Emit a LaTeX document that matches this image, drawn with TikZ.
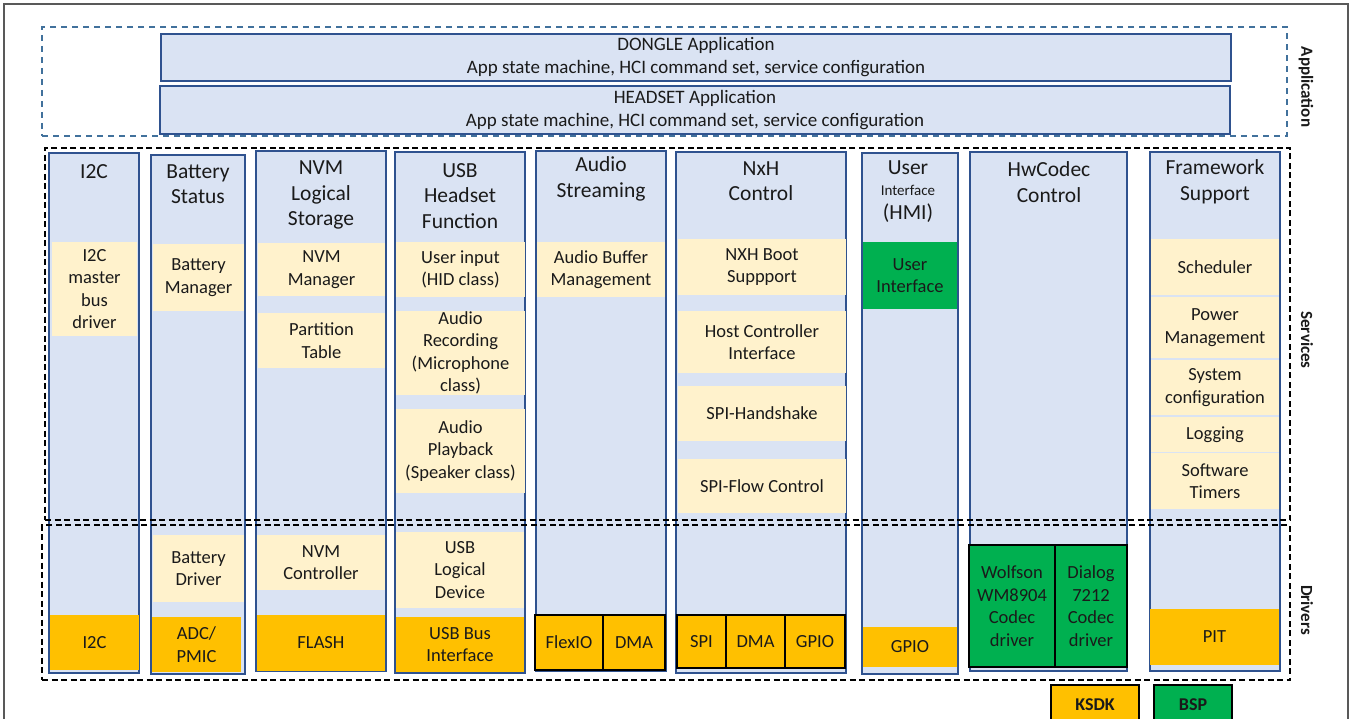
\documentclass[tikz,border=0pt]{standalone}
\usepackage{fontspec}
\setmainfont{Carlito}
\definecolor{colblue}{HTML}{DAE3F3}
\definecolor{bord}{HTML}{2F528F}
\definecolor{appdash}{HTML}{41719C}
\definecolor{ylw}{HTML}{FFF2CC}
\definecolor{org}{HTML}{FFC000}
\definecolor{grn}{HTML}{00B050}
\definecolor{frame}{HTML}{595959}
\definecolor{txt}{HTML}{1A1A1A}
\newcommand\bx[7]{\node[#2, minimum width={#5-#3}, minimum height={#6-#4}] (#1) at ({(#3+#5)/2},{(#4+#6)/2}) {#7};}
\newcommand\subfont{\fontsize{18.5}{22.5}\selectfont}
\newcommand\appfont{\fontsize{19}{23}\selectfont}
\newcommand\headfont{\fontsize{21.5}{25.5}\selectfont}
\tikzset{
  every node/.style={inner sep=0pt, outer sep=0pt, text=txt, align=center},
  colbox/.style={draw=bord, fill=colblue, line width=1.8pt},
  appbox/.style={draw=bord, fill=colblue, line width=1.8pt, font=\appfont},
  ybox/.style={fill=ylw, font=\subfont},
  obox/.style={fill=org, font=\subfont},
  gbox/.style={fill=grn, font=\subfont},
  kbox/.style={fill=org, draw=black, line width=1.8pt, font=\subfont},
  gkbox/.style={fill=grn, draw=black, line width=1.8pt, font=\subfont},
  head/.style={font=\headfont},
  layerdash/.style={draw=black, line width=1.6pt, dash pattern=on 6pt off 3.5pt},
  appdashbox/.style={draw=appdash, line width=1.4pt, dash pattern=on 6pt off 5pt},
  sidelabel/.style={rotate=-90, font=\fontsize{17}{20}\selectfont\bfseries},
  legend/.style={draw=black, line width=1.8pt, font=\fontsize{18}{22}\selectfont\bfseries}
}
\begin{document}
\begin{tikzpicture}[x=1pt, y=-1pt]
\useasboundingbox (0,0) rectangle (1354,719);
\clip (0,0) rectangle (1354,719);
% outer frame
\draw[frame, line width=2.6pt] (4,740) -- (4,4) -- (1348,4) -- (1348,740);
% application layer
\bx{appd}{appdashbox}{42}{27}{1287}{136}{}
\bx{dongle}{appbox}{161}{34}{1231}{81}{DONGLE Application\\App state machine, HCI command set, service configuration}
\bx{headset}{appbox}{160}{86}{1230}{134}{HEADSET Application\\App state machine, HCI command set, service configuration}
% columns
\bx{c1}{colbox}{49}{153}{139}{673}{}
\bx{c2}{colbox}{151}{155}{245}{674}{}
\bx{c3}{colbox}{256}{151}{386}{671}{}
\bx{c4}{colbox}{395}{152}{525}{673}{}
\bx{c5}{colbox}{536}{151}{666}{671}{}
\bx{c6}{colbox}{676}{152}{846}{673}{}
\bx{c7}{colbox}{862}{153}{958}{674}{}
\bx{c8}{colbox}{970}{152}{1127}{671}{}
\bx{c9}{colbox}{1150}{152}{1280}{671}{}
% headings
\node[head] (h1) at (94,172) {I2C};
\node[head] (h2) at (198,184) {Battery\\Status};
\node[head] (h3) at (321,195) {NVM\\Logical\\Storage};
\node[head] (h4) at (460,196) {USB\\Headset\\Function};
\node[head] (h5) at (601,179) {Audio\\Streaming};
\node[head] (h6) at (761,181) {NxH\\Control};
\node[head] (h7a) at (908,168) {User};
\node[font=\fontsize{15}{18}\selectfont] (h7b) at (908,190) {Interface};
\node[head] (h7c) at (908,213) {(HMI)};
\node[head] (h8) at (1049,182) {HwCodec\\Control};
\node[head] (h9) at (1215,182) {Framework\\Support};
% services boxes
\bx{s1}{ybox}{52}{242}{137}{336}{I2C\\master\\bus\\driver}
\bx{s2}{ybox}{153}{244}{244}{311}{Battery\\Manager}
\bx{s3}{ybox}{258}{243}{385}{296}{NVM\\Manager}
\bx{s4}{ybox}{258}{313}{385}{368}{Partition\\Table}
\bx{s5}{ybox}{396}{242}{525}{297}{User input\\(HID class)}
\bx{s6}{ybox}{396}{311}{525}{395}{Audio\\Recording\\(Microphone\\class)}
\bx{s7}{ybox}{396}{409}{525}{493}{Audio\\Playback\\(Speaker class)}
\bx{s8}{ybox}{537}{242}{665}{297}{Audio Buffer\\Management}
\bx{s9}{ybox}{678}{239}{846}{295}{NXH Boot\\Suppport}
\bx{s10}{ybox}{678}{311}{846}{373}{Host Controller\\Interface}
\bx{s11}{ybox}{678}{386}{846}{441}{SPI-Handshake}
\bx{s12}{ybox}{678}{459}{846}{513}{SPI-Flow Control}
\bx{s13}{gbox}{863}{242}{957}{309}{User\\Interface}
\bx{s14}{ybox}{1151}{239}{1279}{295}{Scheduler}
\bx{s15}{ybox}{1151}{297}{1279}{358}{Power\\Management}
\bx{s16}{ybox}{1151}{360}{1279}{415}{System\\configuration}
\bx{s17}{ybox}{1151}{417}{1279}{452}{Logging}
\bx{s18}{ybox}{1151}{453}{1279}{509}{Software\\Timers}
% drivers boxes
\bx{d1}{ybox}{153}{535}{244}{602}{Battery\\Driver}
\bx{d2}{ybox}{257}{535}{385}{590}{NVM\\Controller}
\bx{d3}{ybox}{396}{532}{524}{608}{USB\\Logical\\Device}
\bx{o1}{obox}{50}{615}{139}{670}{I2C}
\bx{o2}{obox}{152}{617}{241}{672}{ADC/\\PMIC}
\bx{o3}{obox}{257}{615}{385}{671}{FLASH}
\bx{o4}{obox}{396}{617}{524}{672}{USB Bus\\Interface}
\bx{k1}{kbox}{535}{615}{603}{670}{FlexIO}
\bx{k2}{kbox}{603}{615}{665}{670}{DMA}
\bx{k3}{kbox}{677}{615}{726}{668}{SPI}
\bx{k4}{kbox}{726}{615}{785}{668}{DMA}
\bx{k5}{kbox}{785}{615}{845}{668}{GPIO}
\bx{o5}{obox}{863}{627}{957}{667}{GPIO}
\bx{w1}{gkbox}{969}{545}{1055}{667}{Wolfson\\WM8904\\Codec\\driver}
\bx{w2}{gkbox}{1055}{545}{1127}{667}{Dialog\\7212\\Codec\\driver}
\bx{o6}{obox}{1150}{609}{1279}{665}{PIT}
% layer outlines
\bx{servd}{layerdash}{45}{148}{1290}{520}{}
\bx{drvd}{layerdash}{42}{525}{1290}{680}{}
% side labels
\node[sidelabel] (lapp) at (1306,87) {Application};
\node[sidelabel] (lserv) at (1307,340) {Services};
\node[sidelabel] (ldrv) at (1307,610) {Drivers};
% legend
\bx{ksdk}{legend, fill=org}{1051}{685}{1139}{724}{KSDK}
\bx{bsp}{legend, fill=grn}{1154}{685}{1232}{724}{BSP}
\end{tikzpicture}
\end{document}
